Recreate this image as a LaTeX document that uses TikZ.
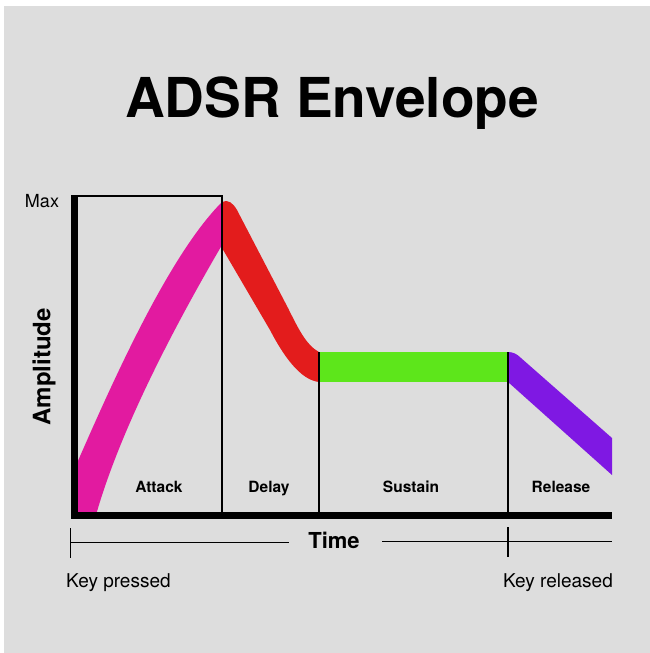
\documentclass[tikz,border=0pt]{standalone}
\usepackage{fontspec}
\setmainfont{TeX Gyre Heros}
\definecolor{bg}{RGB}{221,221,221}
\definecolor{att}{RGB}{226,26,160}
\definecolor{dec}{RGB}{227,28,28}
\definecolor{sus}{RGB}{93,230,27}
\definecolor{rel}{RGB}{127,24,227}
\begin{document}
\begin{tikzpicture}[x=1pt,y=-1pt,
  lbl/.style={font=\fontsize{15.5}{18}\selectfont\bfseries, inner sep=0pt, anchor=base},
  keylbl/.style={font=\fontsize{19}{22}\selectfont, inner sep=0pt},
  thinrule/.style={line width=2pt, black},
  axisline/.style={line width=7pt, black},
  timeline/.style={line width=1.8pt, black},
]
\useasboundingbox (0,0) rectangle (650,653);
\fill[white] (0,0) rectangle (650,653);
\fill[bg] (4,6) rectangle (650,653);

% title
\node[font=\fontsize{55}{62}\selectfont\bfseries, anchor=base, inner sep=0pt] (title) at (332,117) {ADSR Envelope};

% envelope segments
\fill[att] (74,515) -- (74,470) .. controls (109,390) and (167,257) .. (222,202)
  -- (222,245) .. controls (177,322) and (121,427) .. (96,515) -- cycle;
\fill[dec] (222,202) .. controls (228,199) and (233,203) .. (237,210)
  -- (288,308) .. controls (298,328) and (306,345) .. (319,352)
  -- (319,382) .. controls (300,380) and (283,355) .. (270,330) -- (222,248) -- cycle;
\fill[sus] (319,352) rectangle (508,382);
\fill[rel] (508,352) .. controls (513,352) and (517,354) .. (521,358)
  -- (612,438) -- (612,475) -- (508,382) -- cycle;

% key coordinates
\coordinate (ytop) at (74.5,195);
\coordinate (origin) at (74.5,515.5);
\coordinate (xend) at (612,515.5);
\coordinate (boxL) at (74.5,196);
\coordinate (boxR) at (222,196);
\coordinate (ad) at (222,515);
\coordinate (dsTop) at (319,352);
\coordinate (ds) at (319,515);
\coordinate (srTop) at (508,352);
\coordinate (sr) at (508,515);

% axes and dividers
\draw[axisline] (ytop) -- (origin) -- (xend);
\draw[thinrule] (boxL) -- (boxR) -- (ad);
\draw[thinrule] (dsTop) -- (ds);
\draw[thinrule] (srTop) -- (sr);

% labels
\node[font=\fontsize{18}{21}\selectfont, anchor=base, inner sep=0pt] (max) at (42,207.5) {Max};
\node[font=\fontsize{24}{28}\selectfont\bfseries, rotate=90, inner sep=0pt] (amp) at (44,367) {Amplitude};
\node[lbl] (attack) at (159,492) {Attack};
\node[lbl] (delay) at (269,492) {Delay};
\node[lbl] (sustain) at (411,492) {Sustain};
\node[lbl] (release) at (561,492) {Release};

% time line
\node[font=\fontsize{22}{26}\selectfont\bfseries, anchor=base, inner sep=0pt] (time) at (334,548.5) {Time};
\coordinate (kp) at (70.5,542.5);
\coordinate (kpTop) at (70.5,528);
\coordinate (kpBot) at (70.5,558);
\coordinate (tl1) at (289,542.5);
\coordinate (tr0) at (382,541.5);
\coordinate (tr1) at (612,541.5);
\coordinate (krTop) at (508,527);
\coordinate (krBot) at (508,557);
\draw[timeline] (kp) -- (tl1);
\draw[timeline] (kpTop) -- (kpBot);
\draw[timeline] (tr0) -- (tr1);
\draw[timeline] (krTop) -- (krBot);

\node[keylbl, anchor=base west] (kpl) at (66,587) {Key pressed};
\node[keylbl, anchor=base east] (krl) at (613,587) {Key released};
\end{tikzpicture}
\end{document}
